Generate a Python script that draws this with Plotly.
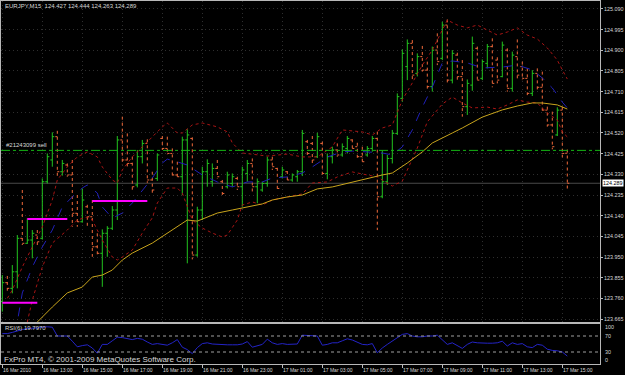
import plotly.graph_objects as go
import pandas as pd

# ---------------- data ----------------
header_text = "EURJPY,M15  124.427 124.444 124.263 124.289"
order_label = "#21243099 sell"
rsi_label = "RSI(6) 19.7970"
footer_text = "FxPro MT4, \u00a9 2001-2009 MetaQuotes Software Corp."
start_time = "2010-03-16 11:00"

opens = [123.745, 123.832, 123.806, 123.882, 124.036, 124.013, 124.028, 124.051, 124.036, 124.296,
         124.396, 124.503, 124.342, 124.373, 124.327, 124.151, 124.112, 124.181, 124.135, 123.997,
         123.967, 124.059, 124.082, 124.166, 124.488, 124.396, 124.380, 124.281, 124.411, 124.472,
         124.304, 124.311, 124.495, 124.449, 124.426, 124.327, 124.319, 124.488, 124.495, 123.959,
         124.166, 124.342, 124.296, 124.357, 124.296, 124.273, 124.288, 124.311, 124.273, 124.334,
         124.380, 124.273, 124.258, 124.288, 124.396, 124.357, 124.319, 124.342, 124.304, 124.319,
         124.342, 124.480, 124.472, 124.411, 124.472, 124.334, 124.411, 124.442, 124.419, 124.449,
         124.488, 124.457, 124.411, 124.419, 124.449, 124.495, 124.227, 124.296, 124.403, 124.518,
         124.679, 124.825, 124.932, 124.794, 124.871, 124.809, 124.733, 124.901, 124.863, 125.016,
         124.763, 124.878, 124.779, 124.641, 124.740, 124.909, 124.771, 124.840, 124.917, 124.855,
         124.779, 124.901, 124.725, 124.871, 124.825, 124.771, 124.702, 124.794, 124.730, 124.625,
         124.557, 124.511, 124.625, 124.427]
highs = [123.867, 123.863, 123.913, 124.051, 124.258, 124.128, 124.074, 124.074, 124.311, 124.426,
         124.523, 124.530, 124.396, 124.380, 124.396, 124.235, 124.265, 124.190, 124.212, 124.059,
         124.077, 124.092, 124.184, 124.506, 124.595, 124.518, 124.411, 124.442, 124.488, 124.491,
         124.342, 124.426, 124.506, 124.503, 124.449, 124.388, 124.503, 124.537, 124.500, 124.181,
         124.365, 124.399, 124.380, 124.396, 124.304, 124.342, 124.334, 124.319, 124.365, 124.396,
         124.403, 124.311, 124.296, 124.411, 124.411, 124.360, 124.365, 124.345, 124.334, 124.350,
         124.534, 124.488, 124.506, 124.521, 124.480, 124.426, 124.457, 124.472, 124.472, 124.506,
         124.491, 124.475, 124.457, 124.460, 124.506, 124.526, 124.439, 124.419, 124.534, 124.702,
         124.904, 124.950, 124.947, 124.886, 124.920, 124.848, 124.917, 124.978, 125.031, 125.042,
         124.901, 124.889, 124.855, 124.766, 124.963, 124.917, 124.858, 124.929, 124.955, 124.868,
         124.940, 124.909, 124.894, 124.950, 124.848, 124.817, 124.809, 124.817, 124.802, 124.641,
         124.618, 124.638, 124.641, 124.444]
lows = [123.699, 123.795, 123.783, 123.806, 124.005, 124.010, 123.944, 124.005, 124.030, 124.288,
        124.365, 124.319, 124.324, 124.319, 124.089, 124.089, 124.108, 124.089, 123.951, 123.951,
        123.813, 123.951, 124.074, 124.120, 124.373, 124.365, 124.250, 124.270, 124.380, 124.291,
        124.242, 124.300, 124.442, 124.419, 124.311, 124.311, 124.235, 123.921, 123.939, 123.951,
        124.120, 124.273, 124.273, 124.311, 124.227, 124.265, 124.273, 124.258, 124.181, 124.296,
        124.250, 124.197, 124.250, 124.273, 124.350, 124.250, 124.311, 124.296, 124.296, 124.296,
        124.322, 124.411, 124.380, 124.405, 124.319, 124.307, 124.380, 124.411, 124.411, 124.426,
        124.445, 124.396, 124.380, 124.411, 124.434, 124.074, 124.220, 124.281, 124.380, 124.511,
        124.664, 124.763, 124.763, 124.780, 124.802, 124.717, 124.710, 124.832, 124.855, 124.740,
        124.748, 124.763, 124.595, 124.603, 124.714, 124.756, 124.763, 124.817, 124.730, 124.748,
        124.776, 124.710, 124.710, 124.771, 124.763, 124.694, 124.690, 124.720, 124.613, 124.549,
        124.445, 124.506, 124.408, 124.263]
closes = [123.832, 123.806, 123.882, 124.036, 124.013, 124.028, 124.059, 124.020, 124.296, 124.411,
          124.503, 124.342, 124.380, 124.327, 124.151, 124.112, 124.212, 124.135, 123.997, 123.967,
          124.059, 124.082, 124.166, 124.488, 124.396, 124.380, 124.273, 124.411, 124.472, 124.304,
          124.258, 124.419, 124.449, 124.426, 124.327, 124.319, 124.488, 124.511, 123.959, 124.166,
          124.342, 124.380, 124.357, 124.319, 124.242, 124.327, 124.319, 124.273, 124.350, 124.380,
          124.273, 124.296, 124.288, 124.396, 124.365, 124.265, 124.350, 124.304, 124.327, 124.342,
          124.518, 124.426, 124.396, 124.503, 124.334, 124.411, 124.442, 124.419, 124.457, 124.495,
          124.449, 124.411, 124.388, 124.449, 124.495, 124.227, 124.296, 124.403, 124.518, 124.687,
          124.886, 124.932, 124.786, 124.871, 124.809, 124.733, 124.901, 124.848, 125.016, 124.763,
          124.886, 124.779, 124.641, 124.748, 124.932, 124.763, 124.848, 124.917, 124.748, 124.763,
          124.924, 124.725, 124.878, 124.786, 124.771, 124.702, 124.794, 124.730, 124.625, 124.557,
          124.457, 124.625, 124.426, 124.289]

# yellow moving average (bar index, value)
ma_slow_idx = [5, 7, 10, 13, 16, 18, 20, 22, 24, 26, 30, 34, 37, 39, 43, 46, 49, 52, 54, 57,
               60, 63, 66, 70, 74, 76, 78, 81, 84, 86, 90, 92, 96, 100, 103, 106, 108, 111, 113]
ma_slow_val = [123.600, 123.651, 123.720, 123.785, 123.812, 123.858, 123.867, 123.890, 123.936, 123.968,
               124.014, 124.074, 124.120, 124.115, 124.152, 124.166, 124.180, 124.194, 124.212, 124.226,
               124.235, 124.263, 124.272, 124.295, 124.318, 124.327, 124.336, 124.382, 124.433, 124.474,
               124.520, 124.543, 124.593, 124.626, 124.644, 124.658, 124.658, 124.649, 124.630]
# blue dashed moving average
ma_fast_idx = [2, 3, 4, 6, 8, 10, 12, 14, 16, 17, 19, 20, 22, 24, 26, 28, 30, 32, 33, 35, 37,
               40, 43, 46, 49, 52, 54, 57, 60, 62, 65, 68, 70, 73, 76, 78, 80, 82, 84, 86, 88,
               90, 93, 96, 100, 103, 106, 108, 110, 112, 113]
ma_fast_val = [123.600, 123.651, 123.785, 123.904, 123.996, 124.074, 124.180, 124.226, 124.267, 124.281,
               124.244, 124.180, 124.129, 124.152, 124.198, 124.258, 124.313, 124.382, 124.400, 124.387,
               124.373, 124.327, 124.295, 124.272, 124.295, 124.295, 124.313, 124.318, 124.336, 124.364,
               124.410, 124.433, 124.437, 124.433, 124.428, 124.419, 124.456, 124.534, 124.639, 124.731,
               124.842, 124.851, 124.842, 124.819, 124.823, 124.832, 124.810, 124.773, 124.727, 124.662,
               124.635]
# red dotted envelope, upper
band_up_idx = [1, 2, 4, 6, 8, 10, 11, 13, 15, 17, 19, 20, 22, 23, 24, 26, 28, 30, 32, 33, 35,
               36, 38, 40, 43, 45, 46, 48, 50, 53, 57, 60, 63, 66, 68, 72, 74, 76, 78, 79, 80,
               82, 84, 86, 88, 89, 91, 93, 95, 97, 99, 101, 103, 105, 107, 109, 111, 112, 113]
band_up_val = [123.760, 123.798, 123.904, 123.996, 124.088, 124.212, 124.304, 124.364, 124.410, 124.433,
               124.410, 124.364, 124.304, 124.290, 124.350, 124.410, 124.456, 124.502, 124.548, 124.566,
               124.520, 124.520, 124.557, 124.566, 124.548, 124.525, 124.474, 124.428, 124.423, 124.414,
               124.423, 124.410, 124.410, 124.456, 124.534, 124.525, 124.511, 124.543, 124.557, 124.612,
               124.672, 124.750, 124.832, 124.901, 124.993, 125.039, 125.016, 125.003, 125.016, 124.993,
               124.970, 124.984, 125.003, 124.970, 124.952, 124.911, 124.855, 124.810, 124.768]
# red dotted envelope, lower
band_lo_idx = [3, 5, 6, 8, 10, 13, 15, 17, 18, 20, 22, 23, 24, 26, 28, 30, 31, 33, 35, 36,
               38, 40, 42, 44, 45, 47, 48, 50, 52, 54, 57, 60, 62, 65, 67, 70, 73, 75, 78, 80,
               83, 85, 88, 90, 92, 94, 97, 99, 101, 103, 105, 107, 109, 111, 112, 113]
band_lo_val = [123.550, 123.651, 123.752, 123.904, 124.014, 124.074, 124.120, 124.134, 124.120, 124.028,
               123.950, 123.936, 123.950, 123.982, 124.060, 124.130, 124.198, 124.267, 124.267, 124.244,
               124.120, 124.083, 124.060, 124.042, 124.051, 124.120, 124.189, 124.203, 124.189, 124.212,
               124.226, 124.240, 124.290, 124.295, 124.318, 124.341, 124.327, 124.318, 124.276, 124.299,
               124.451, 124.571, 124.653, 124.685, 124.658, 124.635, 124.639, 124.630, 124.649, 124.672,
               124.662, 124.658, 124.612, 124.580, 124.525, 124.502]
# magenta level segments
level_start_idx = [0, 5, 18]
level_end_idx = [7, 13, 29]
level_price = [123.740, 124.125, 124.207]

order_price = 124.440
bid_price = 124.289

rsi_values = [76, 76, 79, 83, 86, 89, 89, 90, 92, 93,
              92, 70, 70, 70, 57, 43, 46, 48, 40, 27,
              49, 49, 58, 67, 66, 63, 61, 64, 62, 55,
              49, 51, 49, 47, 53, 61, 42, 36, 26, 41,
              51, 53, 50, 49, 49, 48, 48, 48, 50, 56,
              42, 45, 49, 62, 53, 49, 51, 49, 49, 50,
              72, 71, 70, 70, 47, 49, 53, 53, 58, 63,
              60, 55, 49, 48, 51, 28, 40, 49, 57, 66,
              74, 76, 70, 68, 68, 70, 70, 72, 60, 49,
              53, 47, 39, 49, 55, 53, 52, 52, 52, 53,
              57, 45, 53, 49, 51, 43, 41, 49, 47, 37,
              34, 33, 30, 19.8]
rsi_levels = [30, 70]
rsi_tick_vals = [100, 70, 30, 0]

price_ticks = [123.665, 123.760, 123.855, 123.950, 124.045, 124.140, 124.235, 124.330,
               124.425, 124.520, 124.615, 124.710, 124.805, 124.900, 124.995, 125.090]
time_tick_idx = [0, 8, 16, 24, 32, 40, 48, 56, 64, 72, 80, 88, 96, 104, 112]
time_tick_text = ["16 Mar 2010", "16 Mar 13:00", "16 Mar 15:00", "16 Mar 17:00", "16 Mar 19:00",
                  "16 Mar 21:00", "16 Mar 23:00", "17 Mar 01:00", "17 Mar 03:00", "17 Mar 05:00",
                  "17 Mar 07:00", "17 Mar 09:00", "17 Mar 11:00", "17 Mar 13:00", "17 Mar 15:00"]

# ---------------- styles ----------------
W, H = 625, 375
BG = "#000000"
UP = "#22c41e"
DOWN = "#f0693a"
FRAME = "#b8b8b8"
GRID = "#2e2e2e"
TXT = "#d8d8d8"
FONT = "Liberation Sans"
LABEL_SIZE = 5.4

times = pd.date_range(start_time, periods=len(opens), freq="15min")
bar = pd.Timedelta(minutes=15)
x_left = times[0] - 0.26 * bar
x_right = x_left + 119.8 * bar

def px_x(x):
    return x / W

def px_y(y):
    return 1 - y / H

fig = go.Figure()

# envelope bands
fig.add_trace(go.Scatter(x=times[band_up_idx], y=band_up_val, mode="lines",
                         line=dict(color="#a81414", width=1, dash="dot"), hoverinfo="skip"))
fig.add_trace(go.Scatter(x=times[band_lo_idx], y=band_lo_val, mode="lines",
                         line=dict(color="#a81414", width=1, dash="dot"), hoverinfo="skip"))
# moving averages
fig.add_trace(go.Scatter(x=times[ma_fast_idx], y=ma_fast_val, mode="lines",
                         line=dict(color="#2020b8", width=1, dash="dash"), hoverinfo="skip"))
fig.add_trace(go.Scatter(x=times[ma_slow_idx], y=ma_slow_val, mode="lines",
                         line=dict(color="#c8a41c", width=1), hoverinfo="skip"))
# magenta levels
for s, e, p in zip(level_start_idx, level_end_idx, level_price):
    fig.add_trace(go.Scatter(x=[times[s], times[e]], y=[p, p], mode="lines",
                             line=dict(color="#ff00ff", width=2), hoverinfo="skip"))
# OHLC bars
fig.add_trace(go.Ohlc(x=times, open=opens, high=highs, low=lows, close=closes,
                      increasing=dict(line=dict(color=UP, width=1)),
                      decreasing=dict(line=dict(color=DOWN, width=1, dash="dot")),
                      tickwidth=0.4, hoverinfo="skip"))
# RSI
fig.add_trace(go.Scatter(x=times, y=rsi_values, mode="lines", xaxis="x2", yaxis="y2",
                         line=dict(color="#2424c8", width=1), hoverinfo="skip"))

shapes = [
    dict(type="line", xref="x domain", yref="y", x0=0, x1=1, y0=bid_price, y1=bid_price,
         line=dict(color="#4a4a4a", width=1), layer="below"),
    dict(type="line", xref="x domain", yref="y", x0=0, x1=1, y0=order_price, y1=order_price,
         line=dict(color="#14b414", width=1, dash="dashdot")),
]
for lv in rsi_levels:
    shapes.append(dict(type="line", xref="x2 domain", yref="y2", x0=0, x1=1, y0=lv, y1=lv,
                       line=dict(color="#a0a0a0", width=1, dash="3px,3px")))

annotations = [
    dict(text=header_text, x=px_x(3), y=px_y(6), xref="paper", yref="paper",
         xanchor="left", yanchor="middle", showarrow=False, font=dict(family=FONT, size=6, color=TXT)),
    dict(text=order_label, x=px_x(4), y=order_price, xref="paper", yref="y", yshift=5,
         xanchor="left", yanchor="middle", showarrow=False, font=dict(family=FONT, size=6, color=TXT)),
    dict(text=rsi_label, x=px_x(3), y=px_y(327.5), xref="paper", yref="paper",
         xanchor="left", yanchor="middle", showarrow=False, font=dict(family=FONT, size=6, color=TXT)),
    dict(text=footer_text, x=px_x(2), y=px_y(359.5), xref="paper", yref="paper",
         xanchor="left", yanchor="middle", showarrow=False, font=dict(family=FONT, size=8, color=TXT)),
    dict(text=f"{bid_price:.3f}", x=px_x(602), y=bid_price, xref="paper", yref="y",
         xanchor="left", yanchor="middle", showarrow=False, bgcolor="#ffffff", borderpad=0,
         font=dict(family=FONT, size=LABEL_SIZE, color="#000000")),
]
rsi_shift = {100: -3, 70: 0, 30: 0, 0: 4}
for v in rsi_tick_vals:
    annotations.append(dict(text=str(v), x=px_x(603), y=v, xref="paper", yref="y2", yshift=rsi_shift[v],
                            xanchor="left", yanchor="middle", showarrow=False,
                            font=dict(family=FONT, size=LABEL_SIZE, color=TXT)))
for idx, t in zip(time_tick_idx, time_tick_text):
    annotations.append(dict(text=t, x=times[idx], y=px_y(369.5), xref="x", yref="paper",
                            xanchor="left", yanchor="middle", showarrow=False, xshift=-1,
                            font=dict(family=FONT, size=5, color=TXT)))

axis_common = dict(showline=True, linecolor=FRAME, linewidth=1, mirror=True, zeroline=False)

fig.update_layout(
    width=W, height=H, margin=dict(l=0, r=0, t=0, b=0),
    paper_bgcolor=BG, plot_bgcolor=BG, showlegend=False,
    shapes=shapes, annotations=annotations,
    xaxis=dict(domain=[px_x(1), px_x(600)], range=[x_left, x_right], type="date",
               tickvals=times[time_tick_idx], showticklabels=False, ticks="",
               showgrid=True, gridcolor=GRID, griddash="1px,3px", gridwidth=1,
               rangeslider=dict(visible=False), anchor="y", **axis_common),
    yaxis=dict(domain=[px_y(322), px_y(1)], range=[price_ticks[0] - 0.0137, 125.1266],
               side="right", tickvals=price_ticks, tickformat=".3f", ticks="outside", ticklen=2,
               tickcolor=FRAME, tickfont=dict(family=FONT, size=LABEL_SIZE, color=TXT),
               ticklabelstandoff=0,
               showgrid=True, gridcolor=GRID, griddash="1px,3px", gridwidth=1, anchor="x",
               automargin=False, **axis_common),
    xaxis2=dict(domain=[px_x(1), px_x(600)], matches="x", type="date", anchor="y2",
                tickvals=times[time_tick_idx], showticklabels=False, ticks="outside", ticklen=3,
                tickcolor=FRAME, showgrid=False, rangeslider=dict(visible=False), **axis_common),
    yaxis2=dict(domain=[px_y(364), px_y(324)], range=[0, 100], anchor="x2",
                showticklabels=False, ticks="", showgrid=False, **axis_common),
)

fig.write_html("out.html")
